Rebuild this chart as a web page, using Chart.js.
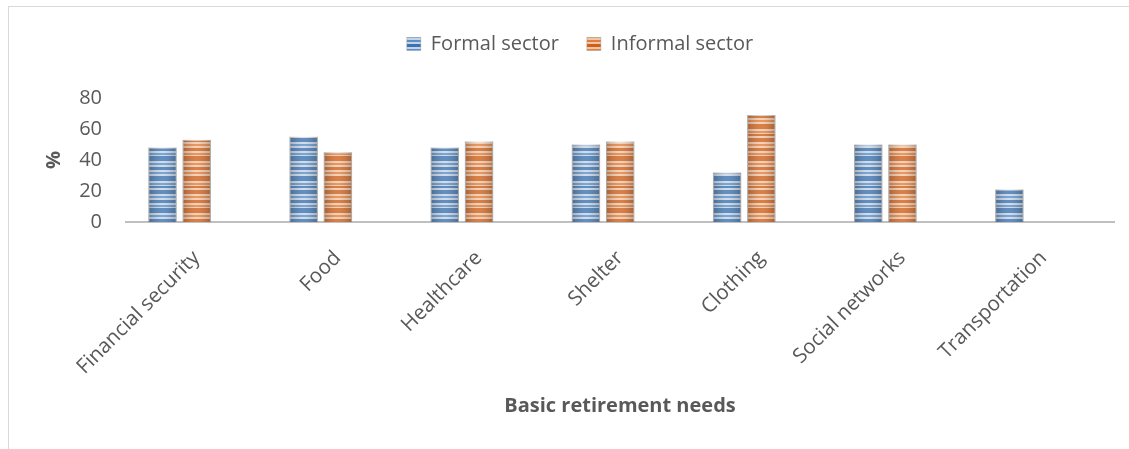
<!DOCTYPE html>
<html>
<head>
<meta charset="utf-8">
<title>Basic retirement needs</title>
<script src="https://cdn.jsdelivr.net/npm/chart.js@4.4.1/dist/chart.umd.min.js"></script>
<style>
  html, body { margin: 0; padding: 0; background: #fff; }
  #wrap { position: relative; width: 1129px; height: 449px; overflow: hidden; }
  #frame { position: absolute; left: 8px; top: 6px; width: 1200px; height: 600px; border: 1px solid #d9d9d9; }
  #needsChart { position: absolute; left: 0; top: 0; }
</style>
</head>
<body>
<div id="wrap">
  <div id="frame"></div>
  <canvas id="needsChart" width="1129" height="449"></canvas>
</div>
<script>
// data
const categories = ['Financial security', 'Food', 'Healthcare', 'Shelter', 'Clothing', 'Social networks', 'Transportation'];
const formalSector = [48, 55, 48, 50, 32, 50, 21];
const informalSector = [53, 45, 52, 52, 69, 50, 0];
const yTicks = [0, 20, 40, 60, 80];

const TEXT = '#595959';
const FONT = "'Open Sans', 'Noto Sans', sans-serif";

// striped fill for the bars
function stripes(c) {
    const cv = document.createElement('canvas');
    cv.width = 8;
    cv.height = 52;
    const g = cv.getContext('2d');
    g.fillStyle = c.light;
    g.fillRect(0, 0, 8, 52);
    const bands = [[0, 5, 'dark'], [7, 2, 'mid'], [11, 3, 'dark'], [16, 2, 'mid'], [20, 5, 'dark'],
                   [27, 2, 'mid'], [30, 2, 'dark'], [34, 4, 'dark'], [40, 2, 'mid'], [44, 3, 'dark'], [49, 2, 'mid']];
    bands.forEach(([y, h, k]) => {
        g.fillStyle = c[k];
        g.fillRect(0, y, 8, h);
    });
    return g.createPattern(cv, 'repeat');
}

const bluePattern = stripes({ dark: '#3b72b0', mid: '#5790cc', light: '#c6d3e4' });
const orangePattern = stripes({ dark: '#cf601a', mid: '#e57d38', light: '#f1c6a8' });

const toPoints = arr => arr.map((v, i) => ({ x: i, y: v }));

// darker edges / lighter middle on each bar
const cylinderShade = {
    id: 'cylinderShade',
    afterDatasetsDraw(chart) {
        const c = chart.ctx;
        chart.data.datasets.forEach((ds, i) => {
            chart.getDatasetMeta(i).data.forEach(bar => {
                const { x, y, base, width } = bar.getProps(['x', 'y', 'base', 'width'], true);
                if (base - y < 1) return;
                const left = x - width / 2;
                const g = c.createLinearGradient(left, 0, left + width, 0);
                g.addColorStop(0, 'rgba(90,90,90,0.35)');
                g.addColorStop(0.45, 'rgba(255,255,255,0.2)');
                g.addColorStop(0.55, 'rgba(255,255,255,0.2)');
                g.addColorStop(1, 'rgba(90,90,90,0.35)');
                c.save();
                c.fillStyle = g;
                c.fillRect(left, y, width, base - y);
                c.restore();
            });
        });
    }
};

// fixed legend height
const legendHeight = {
    id: 'legendHeight',
    beforeInit(chart) {
        const fit = chart.legend.fit;
        chart.legend.fit = function() {
            fit.bind(chart.legend)();
            this.height = 92;
        };
    }
};

const ctx = document.getElementById('needsChart').getContext('2d');

const needsChart = new Chart(ctx, {
    type: 'bar',
    data: {
        labels: categories,
        datasets: [{
            label: 'Formal sector',
            data: toPoints(formalSector),
            xAxisID: 'xb',
            backgroundColor: bluePattern,
            borderColor: 'rgba(150,150,150,0.45)',
            borderWidth: 1
        }, {
            label: 'Informal sector',
            data: toPoints(informalSector),
            xAxisID: 'xb',
            backgroundColor: orangePattern,
            borderColor: 'rgba(150,150,150,0.45)',
            borderWidth: 1
        }]
    },
    options: {
        responsive: false,
        animation: false,
        categoryPercentage: 0.485,
        barPercentage: 0.83,
        layout: {
            padding: { left: 46, right: 15, top: 6, bottom: 27 }
        },
        plugins: {
            legend: {
                position: 'top',
                labels: {
                    color: TEXT,
                    font: { family: FONT, size: 20 },
                    boxWidth: 14,
                    boxHeight: 13,
                    padding: 28
                }
            },
            tooltip: { enabled: false }
        },
        scales: {
            x: {
                type: 'category',
                offset: true,
                grid: { display: false },
                border: { display: true, color: '#c0c0c0', width: 2 },
                ticks: {
                    color: TEXT,
                    font: { family: FONT, size: 20.5 },
                    minRotation: 45,
                    maxRotation: 45,
                    padding: 16
                },
                title: {
                    display: true,
                    text: 'Basic retirement needs',
                    color: TEXT,
                    font: { family: FONT, size: 20, weight: 'bold' },
                    padding: { top: 4, bottom: 4 }
                },
                afterFit(scale) { scale.height = 200; }
            },
            // bars sit on this hidden axis, one unit per category
            xb: {
                type: 'linear',
                display: false,
                offset: false,
                min: -0.38,
                max: 6.62,
                afterBuildTicks(scale) { scale.ticks = categories.map((c, i) => ({ value: i })); }
            },
            y: {
                min: yTicks[0],
                max: yTicks[yTicks.length - 1],
                grid: { display: false },
                border: { display: false },
                afterBuildTicks(scale) { scale.ticks = yTicks.map(v => ({ value: v })); },
                ticks: {
                    color: TEXT,
                    font: { family: FONT, size: 20 },
                    padding: 16
                },
                title: {
                    display: true,
                    text: '%',
                    color: TEXT,
                    font: { family: FONT, size: 20, weight: 'bold' },
                    padding: { top: -4, bottom: 0 }
                },
                afterFit(scale) { scale.width = 80; }
            }
        }
    },
    plugins: [cylinderShade, legendHeight]
});
</script>
</body>
</html>
